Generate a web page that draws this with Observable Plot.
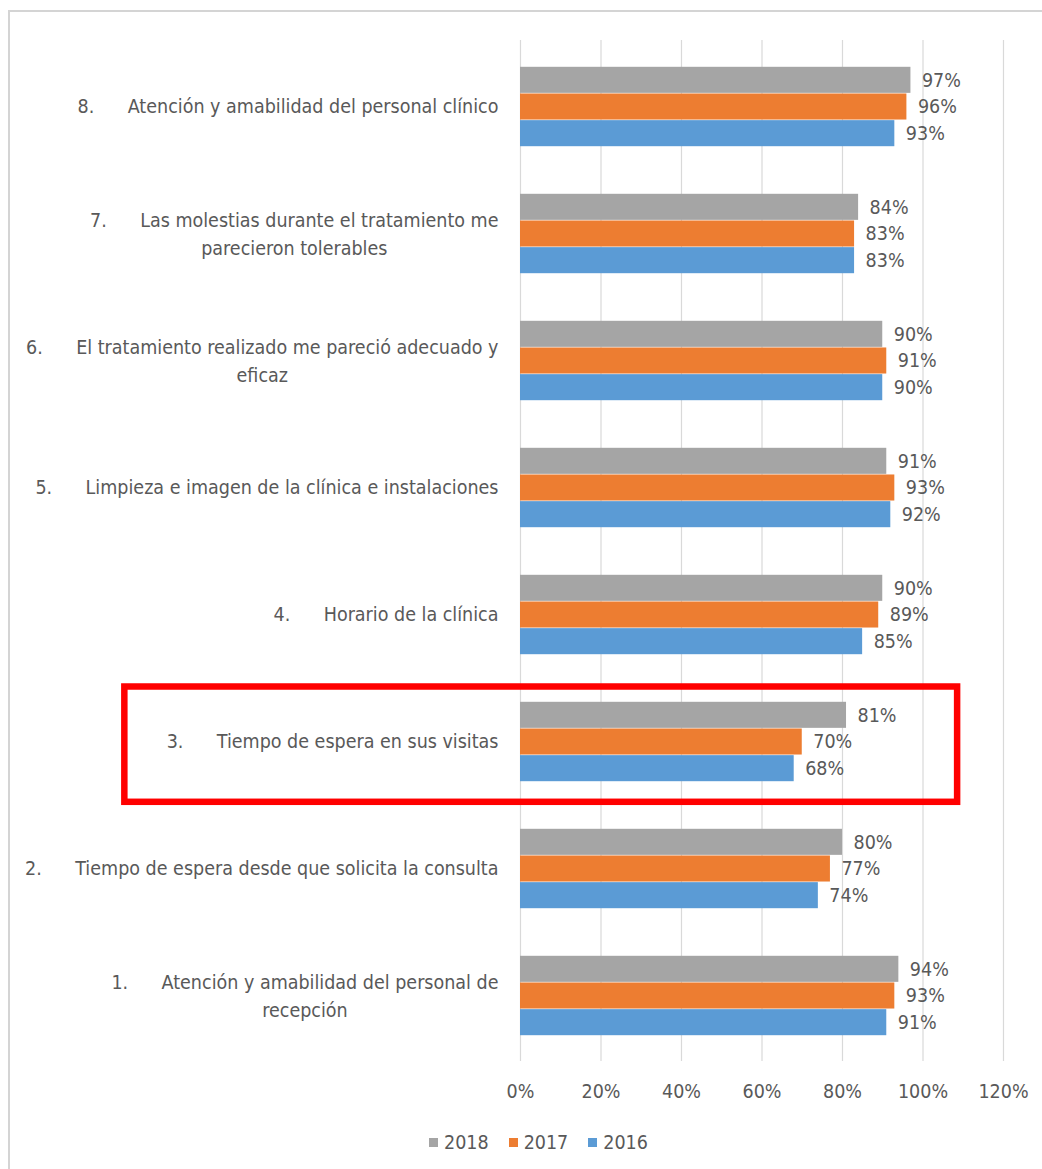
<!DOCTYPE html>
<html><head><meta charset="utf-8">
<script src="https://cdn.jsdelivr.net/npm/d3@7"></script>
<script src="https://cdn.jsdelivr.net/npm/@observablehq/plot@0.6"></script>
<style>
body{margin:0;background:#fff;}
#wrap{position:relative;width:1042px;height:1169px;overflow:hidden;font-family:"DejaVu Sans Condensed","DejaVu Sans",sans-serif;color:#595959;}
#frame{position:absolute;left:8px;top:10px;width:1200px;height:1400px;border-left:2px solid #d4d4d4;border-top:2px solid #d4d4d4;}
#chart{position:absolute;left:0;top:0;}
#legend{position:absolute;top:1131px;left:429px;display:flex;align-items:center;font-size:19.5px;}
#legend .item{display:flex;align-items:center;margin-right:20px;}
#legend .sw{width:9px;height:9px;margin-right:6px;}
</style></head>
<body>
<div id="wrap"><div id="frame"></div><div id="chart"></div><div id="legend"></div></div>
<script>
// ---- data (top to bottom) ----
const categoryIds = ["8","7","6","5","4","3","2","1"];
const labelNumbers = ["8.","7.","6.","5.","4.","3.","2.","1."];
const labelLine1 = [
  "Atención y amabilidad del personal clínico",
  "Las molestias durante el tratamiento me",
  "El tratamiento realizado me pareció adecuado y",
  "Limpieza e imagen de la clínica e instalaciones",
  "Horario de la clínica",
  "Tiempo de espera en sus visitas",
  "Tiempo de espera desde que solicita la consulta",
  "Atención y amabilidad del personal de"
];
const labelLine2 = ["", "parecieron tolerables", "eficaz", "", "", "", "", "recepción"];
const years = ["2018","2017","2016"];
const values2018 = [97,84,90,91,90,81,80,94];
const values2017 = [96,83,91,93,89,70,77,93];
const values2016 = [93,83,90,92,85,68,74,91];
const xTicks = [0,20,40,60,80,100,120];
const highlightIds = ["3"];
const highlightSpan = [-98.3, 108.6]; // x-extent of highlight box, in axis units (%)

// ---- styles ----
const colors = {"2018":"#A5A5A5","2017":"#ED7D31","2016":"#5B9BD5"};
const textColor = "#595959";
const fontFamily = '"DejaVu Sans Condensed","DejaVu Sans",sans-serif';
const fontSize = 19.5;
const W=1042,H=1110,ML=520,MR=39,MT=40,MB=49;
const step=(H-MT-MB)/categoryIds.length;
const barH=step*0.627/3;
const top0=(step-3*barH)/2;

const rows = categoryIds.map((id,i)=>({id, n:labelNumbers[i], l1:labelLine1[i], l2:labelLine2[i],
  "2018":values2018[i],"2017":values2017[i],"2016":values2016[i]}));

const canvas=document.createElement("canvas");const ctx=canvas.getContext("2d");
ctx.font=`${fontSize}px ${fontFamily}`;
const NB="\u00a0".repeat(6);

const marks=[Plot.ruleX(xTicks,{stroke:"#d9d9d9",strokeWidth:1.2})];
years.forEach((yr,k)=>{
  marks.push(Plot.barX(rows,{y:"id",x:yr,fill:colors[yr],insetTop:top0+k*barH,insetBottom:step-top0-(k+1)*barH}));
  marks.push(Plot.text(rows,{y:"id",x:yr,text:d=>d[yr]+"%",dx:11,dy:(k-1)*barH,textAnchor:"start",fill:textColor,fontSize}));
});
const labelGap=22;
rows.forEach(r=>{
  const full=r.n+NB+r.l1;
  const two=r.l2!=="";
  marks.push(Plot.text([r],{y:"id",frameAnchor:"left",dx:-labelGap,dy:two?-13:0,text:()=>full,textAnchor:"end",fill:textColor,fontSize}));
  if(two){
    const w=ctx.measureText(full).width;
    marks.push(Plot.text([r],{y:"id",frameAnchor:"left",dx:-labelGap-w/2,dy:15,text:"l2",textAnchor:"middle",fill:textColor,fontSize}));
  }
});
marks.push(Plot.barX(rows.filter(r=>highlightIds.includes(r.id)),{y:"id",x1:()=>highlightSpan[0],x2:()=>highlightSpan[1],fill:"none",stroke:"#FF0000",strokeWidth:6.5,insetTop:8.5,insetBottom:3.2}));
marks.push(Plot.axisX(xTicks,{tickFormat:d=>d+"%",tickSize:0,tickPadding:23,fontSize,anchor:"bottom"}));

const chart=Plot.plot({
  width:W,height:H,marginLeft:ML,marginRight:MR,marginTop:MT,marginBottom:MB,
  style:{fontFamily,fontSize:fontSize+"px",color:textColor,background:"transparent",overflow:"visible"},
  x:{domain:[0,120],axis:null},
  y:{domain:categoryIds,type:"band",padding:0,axis:null},
  marks
});
document.getElementById("chart").appendChild(chart);

const lg=document.getElementById("legend");
years.forEach(yr=>{
  const it=document.createElement("div");it.className="item";
  const sw=document.createElement("div");sw.className="sw";sw.style.background=colors[yr];
  const t=document.createElement("span");t.textContent=yr;
  it.appendChild(sw);it.appendChild(t);lg.appendChild(it);
});
</script>
</body></html>
